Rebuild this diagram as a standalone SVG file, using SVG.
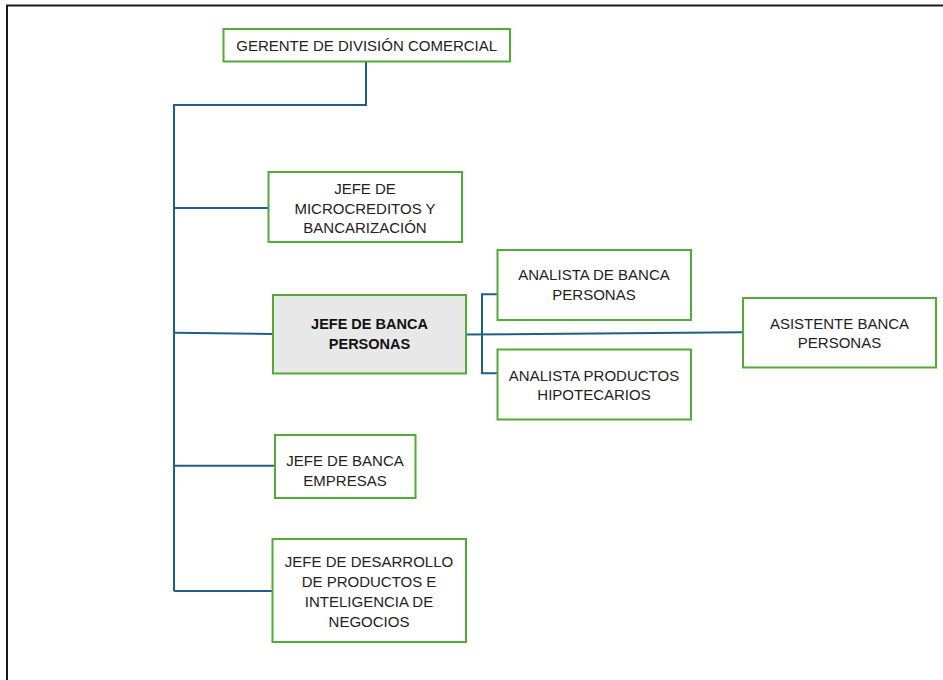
<svg xmlns="http://www.w3.org/2000/svg" width="943" height="680" viewBox="0 0 943 680">
<style>
.box{fill:#ffffff;stroke:#55aa35;stroke-width:2}
.hl{fill:#e8e8e8}
.t{font-family:"Liberation Sans",Arial,sans-serif;font-size:15px;fill:#222222;text-anchor:middle}
.b{font-weight:bold;font-size:14.5px;fill:#111111}
.c{fill:none;stroke:#1f5f8a;stroke-width:2}
</style>
<rect width="943" height="680" fill="#ffffff"/>
<rect x="7" y="5.5" width="1000" height="1000" fill="none" stroke="#1a1a1a" stroke-width="2"/>
<g id="connectors">
<polyline class="c" points="366,62 366,105 174,105 174,591"/>
<line class="c" x1="174" y1="208" x2="268" y2="208"/>
<line class="c" x1="174" y1="332.7" x2="273" y2="334"/>
<line class="c" x1="174" y1="465.7" x2="275" y2="465.7"/>
<line class="c" x1="174" y1="591" x2="272" y2="591"/>
<line class="c" x1="466" y1="334.5" x2="743" y2="332.3"/>
<polyline class="c" points="497,294.3 482,294.3 482,373.3 497,373.3"/>
</g>
<g id="gerente">
<rect class="box" x="223.5" y="29" width="286.5" height="32.5"/>
<text class="t" x="366.7" y="50.5">GERENTE DE DIVISIÓN COMERCIAL</text>
</g>
<g id="jefe-microcreditos">
<rect class="box" x="268.5" y="172" width="193.5" height="70"/>
<text class="t" x="365" y="193.5">JEFE DE</text>
<text class="t" x="365" y="213.5">MICROCREDITOS Y</text>
<text class="t" x="365" y="233">BANCARIZACIÓN</text>
</g>
<g id="jefe-banca-personas">
<rect class="box hl" x="273" y="295" width="193" height="78.5"/>
<text class="t b" x="369.5" y="329">JEFE DE BANCA</text>
<text class="t b" x="369.5" y="349">PERSONAS</text>
</g>
<g id="analista-banca">
<rect class="box" x="497.5" y="250" width="193.5" height="70"/>
<text class="t" x="594" y="279.5">ANALISTA DE BANCA</text>
<text class="t" x="594" y="299.5">PERSONAS</text>
</g>
<g id="analista-productos">
<rect class="box" x="497.5" y="349.5" width="193.5" height="70"/>
<text class="t" x="594" y="380.5">ANALISTA PRODUCTOS</text>
<text class="t" x="594" y="400">HIPOTECARIOS</text>
</g>
<g id="asistente">
<rect class="box" x="743" y="298" width="193" height="69.5"/>
<text class="t" x="839.5" y="328.5">ASISTENTE BANCA</text>
<text class="t" x="839.5" y="348">PERSONAS</text>
</g>
<g id="jefe-banca-empresas">
<rect class="box" x="275" y="435" width="140.5" height="63"/>
<text class="t" x="345" y="465.5">JEFE DE BANCA</text>
<text class="t" x="345" y="485.5">EMPRESAS</text>
</g>
<g id="jefe-desarrollo">
<rect class="box" x="272.5" y="539" width="193.5" height="103"/>
<text class="t" x="369" y="567">JEFE DE DESARROLLO</text>
<text class="t" x="369" y="587">DE PRODUCTOS E</text>
<text class="t" x="369" y="607">INTELIGENCIA DE</text>
<text class="t" x="369" y="626.5">NEGOCIOS</text>
</g>
</svg>
